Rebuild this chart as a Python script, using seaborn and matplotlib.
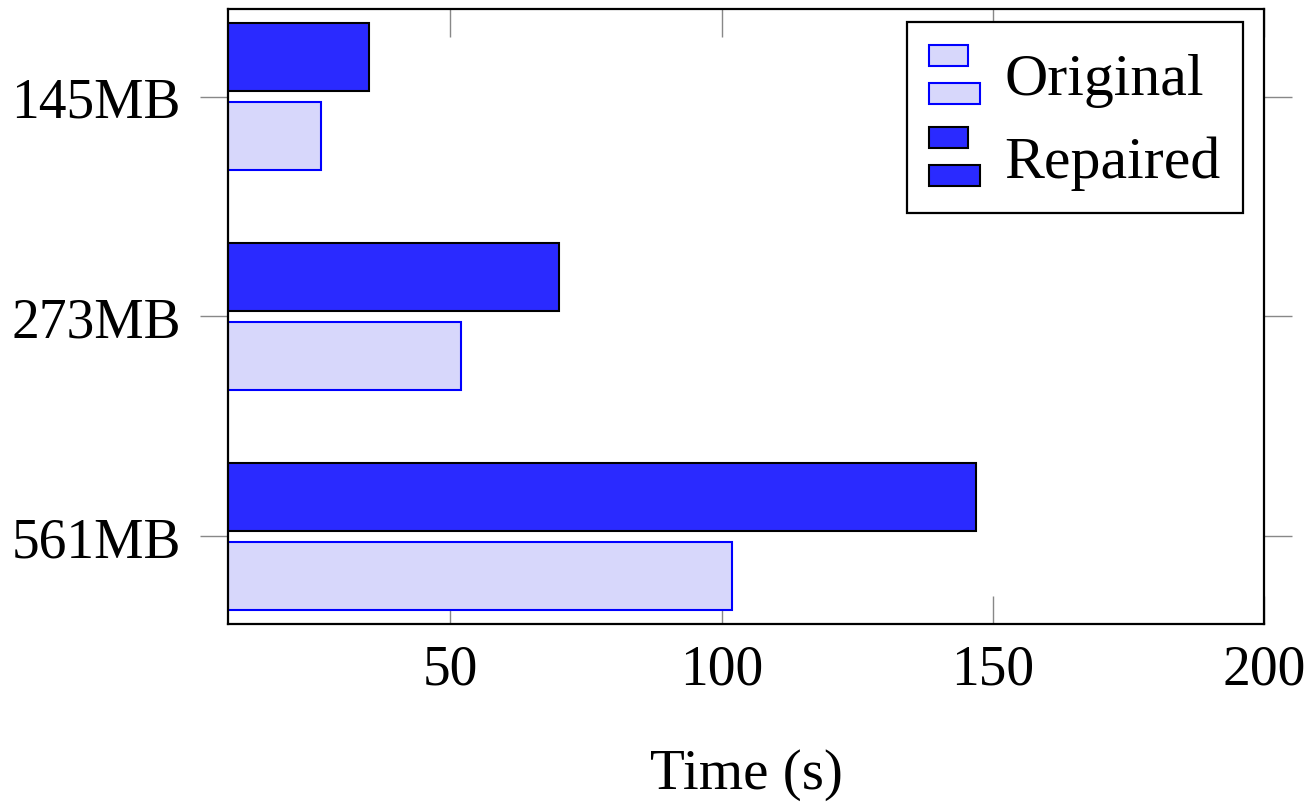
import matplotlib

matplotlib.use("Agg")
import matplotlib.pyplot as plt
import pandas as pd
import seaborn as sns
from matplotlib.legend_handler import HandlerBase
from matplotlib.patches import Patch, Rectangle

# data
SIZES = ["145MB", "273MB", "561MB"]
ORIGINAL = [26.2, 52, 102]
REPAIRED = [35, 70, 147]
XTICKS = [50, 100, 150, 200]

ORIG_FILL = "#d7d7fb"
ORIG_EDGE = "#0000ff"
REP_FILL = "#2a2aff"
REP_EDGE = "#000000"


class TwoBarHandler(HandlerBase):
    # pgfplots-style xbar legend image: two stacked bars
    def create_artists(self, legend, orig_handle, xdescent, ydescent,
                       width, height, fontsize, trans):
        fc = orig_handle.get_facecolor()
        ec = orig_handle.get_edgecolor()
        h = height * 0.36
        top = Rectangle((-xdescent, -ydescent + height - h), width * 0.76, h,
                        facecolor=fc, edgecolor=ec, linewidth=1.5, transform=trans)
        bot = Rectangle((-xdescent, -ydescent), width, h,
                        facecolor=fc, edgecolor=ec, linewidth=1.5, transform=trans)
        return [top, bot]


def main():
    df = pd.DataFrame({
        "size": SIZES * 2,
        "time": REPAIRED + ORIGINAL,
        "version": ["Repaired"] * len(SIZES) + ["Original"] * len(SIZES),
    })

    sns.set_theme(style="white")
    plt.rcParams["font.family"] = ["Liberation Serif", "DejaVu Serif"]
    plt.rcParams["text.color"] = "black"
    plt.rcParams["xtick.labelcolor"] = "black"
    plt.rcParams["ytick.labelcolor"] = "black"
    plt.rcParams["axes.labelcolor"] = "black"

    fig = plt.figure(figsize=(13.11, 8.04), dpi=100)
    ax = fig.add_axes([0.174, 0.2226, 0.790, 0.765])

    sns.barplot(data=df, x="time", y="size", hue="version",
                hue_order=["Repaired", "Original"], order=SIZES,
                orient="h", width=0.72, gap=0.14,
                palette={"Repaired": REP_FILL, "Original": ORIG_FILL},
                saturation=1, legend=False, ax=ax)

    edges = {"Repaired": REP_EDGE, "Original": ORIG_EDGE}
    for cont, name in zip(ax.containers, ["Repaired", "Original"]):
        for bar in cont:
            bar.set_edgecolor(edges[name])
            bar.set_linewidth(1.5)

    ax.set_xlim(9, 200)
    ax.set_ylim(2.4, -0.4)
    ax.set_xticks(XTICKS)
    ax.set_xticklabels([str(t) for t in XTICKS])
    ax.set_ylabel("")
    ax.set_xlabel("Time (s)", fontsize=41, labelpad=38, color="black")

    ax.tick_params(axis="x", direction="in", length=20, width=1, color="#888888",
                   top=True, bottom=True, labelsize=40, pad=14, labelcolor="black")
    ax.tick_params(axis="y", direction="out", length=20, width=1, color="#888888",
                   left=True, right=True, labelsize=40, pad=14, labelcolor="black")
    for sp in ax.spines.values():
        sp.set_visible(True)
        sp.set_color("black")
        sp.set_linewidth(1.6)

    handles = [Patch(facecolor=ORIG_FILL, edgecolor=ORIG_EDGE),
               Patch(facecolor=REP_FILL, edgecolor=REP_EDGE)]
    leg = ax.legend(handles, ["Original", "Repaired"],
                    handler_map={Patch: TwoBarHandler()},
                    loc="upper right", bbox_to_anchor=(0.98, 0.979),
                    borderaxespad=0, fontsize=43, frameon=True, fancybox=False,
                    handlelength=0.85, handleheight=1.15, handletextpad=0.4,
                    labelspacing=0.33, borderpad=0.38)
    frame = leg.get_frame()
    frame.set_edgecolor("black")
    frame.set_linewidth(1.6)
    frame.set_alpha(1)

    fig.savefig("out.png", dpi=100)
    plt.close(fig)


if __name__ == "__main__":
    main()
